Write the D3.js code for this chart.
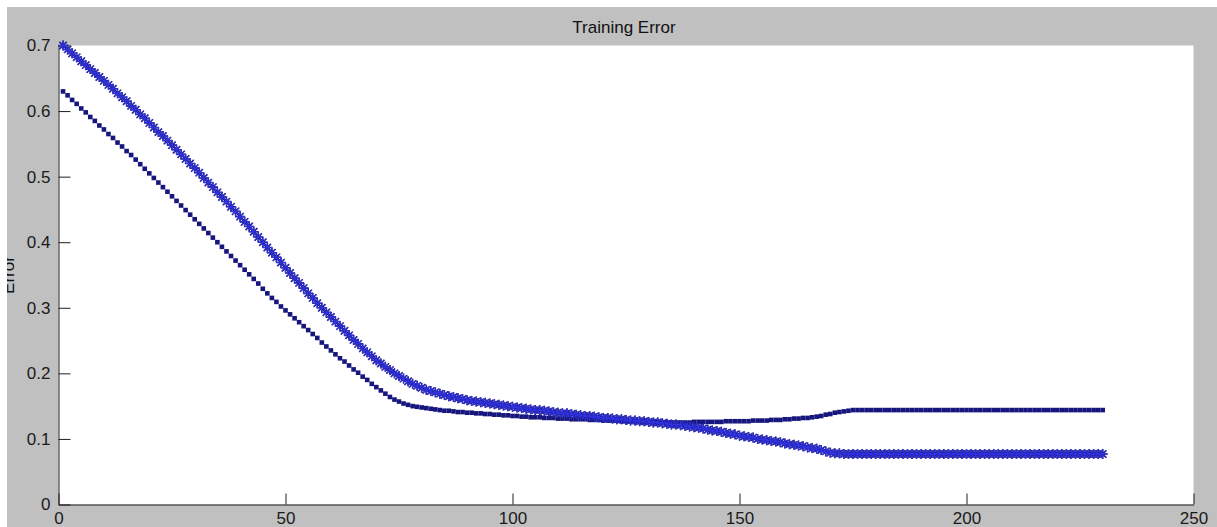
<!DOCTYPE html>
<html>
<head>
<meta charset="utf-8">
<script src="https://cdn.jsdelivr.net/npm/d3@7"></script>
<style>
  html, body { margin: 0; padding: 0; background: #ffffff; }
  svg { display: block; }
  text { font-family: "Liberation Sans", Arial, sans-serif; }
</style>
</head>
<body>
<svg id="chart" width="1217" height="527"></svg>
<script>
// Training error per epoch, two runs
const errStar = [
  0.700,0.694,0.688,0.682,0.676,0.670,0.664,0.658,0.652,0.646,
  0.640,0.634,0.627,0.621,0.615,0.608,0.602,0.595,0.589,0.582,
  0.575,0.568,0.562,0.555,0.548,0.541,0.534,0.527,0.520,0.513,
  0.506,0.498,0.491,0.484,0.476,0.469,0.462,0.454,0.447,0.439,
  0.431,0.424,0.416,0.408,0.400,0.392,0.384,0.377,0.369,0.361,
  0.353,0.345,0.338,0.330,0.322,0.315,0.307,0.300,0.293,0.286,
  0.279,0.272,0.265,0.258,0.251,0.245,0.238,0.232,0.226,0.220,
  0.215,0.210,0.205,0.200,0.196,0.192,0.188,0.184,0.181,0.178,
  0.175,0.173,0.171,0.169,0.167,0.165,0.164,0.162,0.161,0.159,
  0.158,0.157,0.156,0.155,0.154,0.153,0.152,0.151,0.150,0.149,
  0.148,0.147,0.146,0.145,0.144,0.144,0.143,0.142,0.141,0.140,
  0.139,0.139,0.138,0.137,0.136,0.135,0.135,0.134,0.133,0.132,
  0.132,0.131,0.130,0.130,0.129,0.128,0.128,0.127,0.127,0.126,
  0.125,0.125,0.124,0.123,0.122,0.122,0.121,0.120,0.119,0.118,
  0.117,0.116,0.114,0.113,0.112,0.111,0.109,0.108,0.107,0.105,
  0.104,0.103,0.102,0.100,0.099,0.098,0.097,0.096,0.095,0.093,
  0.092,0.091,0.090,0.089,0.087,0.086,0.085,0.083,0.081,0.079,
  0.078,0.078,0.077,0.077,0.077,0.077,0.077,0.077,0.077,0.077,
  0.077,0.077,0.077,0.077,0.077,0.077,0.077,0.077,0.077,0.077,
  0.077,0.077,0.077,0.077,0.077,0.077,0.077,0.077,0.077,0.077,
  0.077,0.077,0.077,0.077,0.077,0.077,0.077,0.077,0.077,0.077,
  0.077,0.077,0.077,0.077,0.077,0.077,0.077,0.077,0.077,0.077,
  0.077,0.077,0.077,0.077,0.077,0.077,0.077,0.077,0.077,0.077
];

const errDot = [
  0.630,0.624,0.617,0.611,0.604,0.598,0.591,0.585,0.578,0.572,
  0.565,0.559,0.552,0.546,0.539,0.533,0.526,0.519,0.512,0.505,
  0.498,0.491,0.484,0.477,0.470,0.463,0.456,0.449,0.442,0.435,
  0.428,0.421,0.414,0.407,0.400,0.393,0.386,0.379,0.372,0.365,
  0.358,0.351,0.344,0.337,0.329,0.322,0.315,0.309,0.302,0.296,
  0.290,0.284,0.278,0.272,0.266,0.260,0.254,0.247,0.241,0.235,
  0.229,0.223,0.218,0.212,0.206,0.201,0.195,0.190,0.184,0.179,
  0.174,0.169,0.164,0.160,0.157,0.154,0.152,0.150,0.149,0.148,
  0.147,0.146,0.145,0.144,0.143,0.143,0.142,0.141,0.141,0.140,
  0.140,0.139,0.139,0.138,0.138,0.137,0.137,0.136,0.136,0.135,
  0.135,0.134,0.134,0.133,0.133,0.133,0.132,0.132,0.132,0.131,
  0.131,0.131,0.130,0.130,0.130,0.130,0.129,0.129,0.129,0.128,
  0.128,0.128,0.128,0.127,0.127,0.127,0.127,0.126,0.126,0.126,
  0.126,0.125,0.125,0.125,0.125,0.125,0.125,0.125,0.125,0.126,
  0.126,0.126,0.126,0.126,0.126,0.126,0.127,0.127,0.127,0.127,
  0.127,0.127,0.128,0.128,0.128,0.128,0.129,0.129,0.129,0.130,
  0.130,0.131,0.131,0.132,0.132,0.133,0.134,0.135,0.137,0.138,
  0.140,0.141,0.142,0.143,0.144,0.144,0.144,0.144,0.144,0.144,
  0.144,0.144,0.144,0.144,0.144,0.144,0.144,0.144,0.144,0.144,
  0.144,0.144,0.144,0.144,0.144,0.144,0.144,0.144,0.144,0.144,
  0.144,0.144,0.144,0.144,0.144,0.144,0.144,0.144,0.144,0.144,
  0.144,0.144,0.144,0.144,0.144,0.144,0.144,0.144,0.144,0.144,
  0.144,0.144,0.144,0.144,0.144,0.144,0.144,0.144,0.144,0.144
];

const xTicks = [0, 50, 100, 150, 200, 250];
const yTicks = [0, 0.1, 0.2, 0.3, 0.4, 0.5, 0.6, 0.7];
const yTickLabels = ["0", "0.1", "0.2", "0.3", "0.4", "0.5", "0.6", "0.7"];
const titleText = "Training Error";
const yLabelText = "Error";

const W = 1217, H = 527;
const svg = d3.select("#chart");

// figure background (grey panel inset from the window edge)
svg.append("rect").attr("x", 0).attr("y", 0).attr("width", W).attr("height", H).attr("fill", "#ffffff");
svg.append("rect").attr("x", 7).attr("y", 7).attr("width", W - 7).attr("height", H - 7).attr("fill", "#c0c0c0");

const x = d3.scaleLinear().domain([0, 250]).range([58.5, 1193.5]);
const y = d3.scaleLinear().domain([0, 0.7]).range([504.5, 45.5]);

// white plotting area
svg.append("rect")
  .attr("x", x(0)).attr("y", y(0.7))
  .attr("width", x(250) - x(0)).attr("height", y(0) - y(0.7))
  .attr("fill", "#ffffff");

// axes with inward ticks
const axisColor = "#1e1e1e";
const gx = svg.append("g").attr("transform", `translate(0,${y(0)})`)
  .call(d3.axisBottom(x).tickValues(xTicks).tickSizeInner(-11).tickSizeOuter(0).tickPadding(7)
    .tickFormat(d3.format("d")));
const gy = svg.append("g").attr("transform", `translate(${x(0)},0)`)
  .call(d3.axisLeft(y).tickValues(yTicks).tickSizeInner(-12).tickSizeOuter(0).tickPadding(8)
    .tickFormat((d, i) => yTickLabels[i]));

[gx, gy].forEach(g => {
  g.selectAll("path.domain").attr("stroke", axisColor).attr("stroke-width", 1);
  g.selectAll(".tick line").attr("stroke", axisColor).attr("stroke-width", 1);
  g.selectAll(".tick text").attr("fill", "#1a1a1a").style("font-size", "17px")
    .style("font-family", "\"Liberation Sans\", Arial, sans-serif");
});

// series with small square markers
const epochs = errDot.map((_, i) => i + 1);
svg.append("g").selectAll("rect")
  .data(errDot)
  .join("rect")
  .attr("x", (d, i) => x(epochs[i]) - 2.3)
  .attr("y", d => y(d) - 2.3)
  .attr("width", 4.6).attr("height", 4.6)
  .attr("fill", "#16167e");

// series with asterisk markers and a connecting line
const lineStar = d3.line().x((d, i) => x(i + 1)).y(d => y(d));
svg.append("path").datum(errStar)
  .attr("d", lineStar).attr("fill", "none")
  .attr("stroke", "#2222cc").attr("stroke-width", 2.2);

const r = 5, dg = r * 0.72;
const starPath = `M${-r},0L${r},0M0,${-r}L0,${r}M${-dg},${-dg}L${dg},${dg}M${-dg},${dg}L${dg},${-dg}`;
const stars = svg.append("g");
// dark outline pass, then the brighter blue core
stars.selectAll("path.outline")
  .data(errStar)
  .join("path")
  .attr("class", "outline")
  .attr("transform", (d, i) => `translate(${x(i + 1)},${y(d)})`)
  .attr("d", starPath)
  .attr("fill", "none")
  .attr("stroke", "#1a1a7a")
  .attr("stroke-width", 1.6);
stars.selectAll("path.core")
  .data(errStar)
  .join("path")
  .attr("class", "core")
  .attr("transform", (d, i) => `translate(${x(i + 1)},${y(d)})`)
  .attr("d", starPath)
  .attr("fill", "none")
  .attr("stroke", "#3232e8")
  .attr("stroke-width", 1);

// title
svg.append("text")
  .attr("x", 624).attr("y", 33)
  .attr("text-anchor", "middle")
  .attr("fill", "#111111")
  .style("font-size", "17px")
  .text(titleText);

// y-axis label, clipped to the grey panel
svg.append("clipPath").attr("id", "panelClip")
  .append("rect").attr("x", 7).attr("y", 7).attr("width", W - 7).attr("height", H - 7);
svg.append("g")
  .attr("clip-path", "url(#panelClip)")
  .append("text")
  .attr("transform", "translate(13.5,275) rotate(-90)")
  .attr("text-anchor", "middle")
  .attr("fill", "#111111")
  .style("font-size", "17px")
  .text(yLabelText);
</script>
</body>
</html>
